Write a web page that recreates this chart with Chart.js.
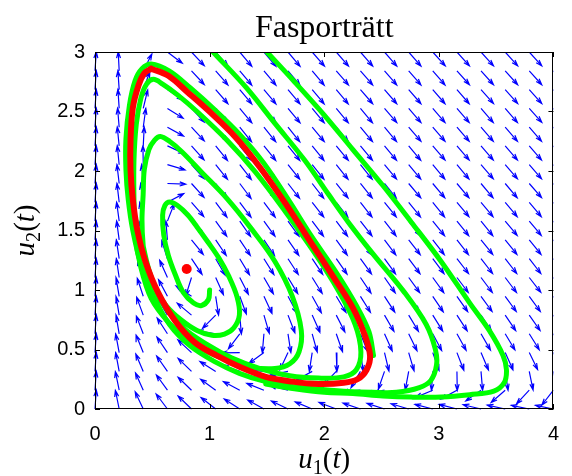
<!DOCTYPE html>
<html><head><meta charset="utf-8">
<script src="https://cdn.jsdelivr.net/npm/chart.js@4/dist/chart.umd.min.js"></script>
<style>html,body{margin:0;padding:0;background:#fff}#wrap{width:572px;height:476px}</style>
</head><body><div id="wrap"><canvas id="c" width="572" height="476"></canvas></div>
<script>
// ---- data ----
const xTicks = [0, 1, 2, 3, 4];
const yTicks = [0, 0.5, 1, 1.5, 2, 2.5, 3];
const titleText = 'Fasporträtt';

// quiver grid (20 x 20)
const gridX = [0,0.211,0.421,0.632,0.842,1.053,1.263,1.474,1.684,1.895,2.105,2.316,2.526,2.737,2.947,3.158,3.368,3.579,3.789,4];
const gridY = [0,0.158,0.316,0.474,0.632,0.789,0.947,1.105,1.263,1.421,1.579,1.737,1.895,2.053,2.211,2.368,2.526,2.684,2.842,3];
// arrow direction in degrees, one row per gridY value (bottom to top), one entry per gridX value
const arrowAngles = [
 [86,102,116,128,137,143,148,152,155,158,160,162,163,164,166,166,167,168,169,169],
 [86,102,115,127,137,145,153,159,166,172,178,-176,-170,-164,-158,-152,-146,-140,-134,-129],
 [86,101,114,126,137,149,161,175,-169,-152,-135,-121,-110,-101,-94,-89,-85,-81,-78,-76],
 [86,101,113,125,138,155,-179,-145,-116,-99,-88,-81,-76,-73,-70,-68,-66,-65,-63,-62],
 [86,100,112,124,139,171,-128,-95,-81,-74,-70,-67,-65,-63,-61,-60,-59,-58,-57,-57],
 [86,100,111,122,141,-136,-85,-73,-68,-65,-62,-61,-59,-58,-57,-56,-56,-55,-54,-54],
 [86,100,109,119,147,-81,-69,-64,-61,-60,-58,-57,-56,-55,-55,-54,-53,-53,-53,-52],
 [86,99,108,115,-108,-65,-62,-59,-58,-57,-56,-55,-54,-53,-53,-52,-52,-52,-51,-51],
 [86,99,106,108,-55,-59,-58,-57,-56,-55,-54,-53,-53,-52,-52,-51,-51,-51,-51,-50],
 [86,98,103,95,-50,-55,-55,-55,-54,-53,-53,-52,-52,-51,-51,-51,-50,-50,-50,-50],
 [86,98,101,68,-48,-53,-54,-53,-53,-52,-52,-51,-51,-50,-50,-50,-50,-49,-49,-49],
 [86,97,98,27,-48,-52,-52,-52,-52,-51,-51,-51,-50,-50,-50,-49,-49,-49,-49,-49],
 [86,97,95,-2,-47,-51,-52,-51,-51,-51,-50,-50,-50,-49,-49,-49,-49,-49,-48,-48],
 [86,96,91,-16,-47,-50,-51,-51,-50,-50,-50,-50,-49,-49,-49,-49,-48,-48,-48,-48],
 [86,96,87,-24,-47,-50,-50,-50,-50,-50,-49,-49,-49,-49,-48,-48,-48,-48,-48,-48],
 [86,95,82,-28,-46,-49,-50,-50,-50,-49,-49,-49,-49,-48,-48,-48,-48,-48,-48,-48],
 [86,94,76,-31,-46,-49,-49,-49,-49,-49,-49,-49,-48,-48,-48,-48,-48,-48,-47,-47],
 [86,94,69,-33,-46,-48,-49,-49,-49,-49,-49,-48,-48,-48,-48,-48,-47,-47,-47,-47],
 [86,93,62,-35,-46,-48,-49,-49,-49,-49,-48,-48,-48,-48,-48,-47,-47,-47,-47,-47],
 [86,93,54,-36,-46,-48,-49,-49,-49,-48,-48,-48,-48,-48,-47,-47,-47,-47,-47,-47]
];
const arrowLength = 0.16;

// fixed point
const fixedX = [0.8];
const fixedY = [1.176];

// red limit cycle
const cycleX = [0.49,0.64,0.81,1.02,1.23,1.44,1.66,1.87,2.08,2.25,2.35,2.40,2.37,2.29,2.17,1.95,1.72,1.49,1.27,1.06,0.87,0.70,0.55,0.44,0.37,0.33,0.31,0.31,0.33,0.38,0.43,0.49];
const cycleY = [2.86,2.80,2.66,2.48,2.28,2.03,1.73,1.42,1.11,0.85,0.63,0.45,0.33,0.25,0.22,0.21,0.23,0.27,0.35,0.45,0.56,0.74,0.98,1.24,1.50,1.76,2.01,2.26,2.53,2.72,2.82,2.86];

// green trajectory from inside (starts at (1,1))
const innerX = [1.00,0.99,0.93,0.86,0.77,0.70,0.64,0.60,0.59,0.61,0.65,0.72,0.81,0.89,0.98,1.08,1.17,1.24,1.26,1.21,1.13,1.02,0.89,0.75,0.62,0.52,0.45,0.42,0.41,0.42,0.43,0.47,0.52,0.57,0.65,0.76,0.93,1.15,1.36,1.57,1.72,1.80,1.78,1.70,1.57,1.37,1.20,0.98,0.81,0.64,0.49,0.40,0.35,0.34,0.34,0.36,0.40,0.45,0.51,0.59,0.72,0.89,1.15,1.40,1.66,1.91,2.12,2.27,2.32,2.28,2.17,1.95,1.70,1.44,1.19,0.98,0.76,0.57,0.47,0.40];
const innerY = [1.00,0.92,0.87,0.89,0.98,1.13,1.29,1.46,1.63,1.71,1.74,1.71,1.63,1.53,1.41,1.27,1.11,0.94,0.79,0.68,0.63,0.62,0.66,0.75,0.87,1.02,1.19,1.38,1.59,1.80,2.01,2.18,2.26,2.29,2.25,2.16,1.99,1.77,1.52,1.24,0.95,0.66,0.48,0.38,0.34,0.35,0.40,0.48,0.58,0.73,0.93,1.19,1.46,1.76,2.09,2.39,2.61,2.73,2.77,2.73,2.64,2.50,2.26,1.99,1.66,1.32,1.00,0.71,0.48,0.33,0.27,0.26,0.28,0.34,0.43,0.54,0.69,0.92,1.17,1.46];

// green trajectory entering from the top at u1 = 1.03
const outer1X = [1.03,1.32,1.57,1.83,2.04,2.21,2.42,2.70,2.89,2.97,2.98,2.93,2.83,2.63,2.42,2.17,1.91,1.72,1.49,1.26,1.04,0.83,0.65,0.51,0.40,0.33,0.29,0.27,0.27,0.30,0.35,0.41,0.49,0.65,0.83,1.05,1.26,1.47,1.68,1.89,2.11,2.28,2.39,2.43];
const outer1Y = [3.00,2.70,2.40,2.09,1.80,1.57,1.31,0.98,0.71,0.50,0.37,0.24,0.18,0.14,0.14,0.15,0.17,0.19,0.23,0.30,0.40,0.53,0.71,0.95,1.22,1.50,1.76,2.01,2.27,2.55,2.76,2.86,2.90,2.84,2.70,2.51,2.31,2.07,1.77,1.45,1.14,0.87,0.65,0.45];

// green trajectory entering from the top at u1 = 1.5
const outer2X = [1.50,1.74,2.00,2.25,2.51,2.76,3.02,3.27,3.44,3.56,3.59,3.57,3.48,3.27,3.02,2.76,2.51,2.25,2.00,1.74,1.49];
const outer2Y = [3.00,2.75,2.47,2.18,1.88,1.57,1.24,0.89,0.66,0.45,0.33,0.22,0.15,0.12,0.10,0.10,0.11,0.13,0.14,0.17,0.21];

// ---- build library data ----
const toPts = (xs, ys) => xs.map((x, k) => ({x: x, y: ys[k]}));
const arrowPts = [];
gridY.forEach((gy, j) => {
  gridX.forEach((gx, i) => {
    const a = arrowAngles[j][i] * Math.PI / 180;
    const u = arrowLength * Math.cos(a), v = arrowLength * Math.sin(a);
    const tx = gx + u, ty = gy + v;
    arrowPts.push({x: gx, y: gy}, {x: tx, y: ty}, {x: gx, y: null});
    arrowPts.push({x: tx - 0.33 * (u + 0.33 * v), y: ty - 0.33 * (v - 0.33 * u)});
    arrowPts.push({x: tx, y: ty});
    arrowPts.push({x: tx - 0.33 * (u - 0.33 * v), y: ty - 0.33 * (v + 0.33 * u)});
    arrowPts.push({x: tx, y: null});
  });
});

const lineDs = (label, pts, color, width, order) => ({
  label, data: pts, showLine: true, borderColor: color, backgroundColor: color,
  borderWidth: width, pointRadius: 0, pointHoverRadius: 0, tension: 0.35,
  cubicInterpolationMode: 'default', spanGaps: false, order, borderCapStyle: 'round', borderJoinStyle: 'round'
});

const frameAndText = {
  id: 'frameAndText',
  afterDraw(chart) {
    const ctx = chart.ctx, a = chart.chartArea, sx = chart.scales.x, sy = chart.scales.y;
    ctx.save();
    ctx.strokeStyle = '#000'; ctx.lineWidth = 1;
    ctx.strokeRect(Math.round(a.left) + 0.5, Math.round(a.top) + 0.5, Math.round(a.right - a.left) - 1, Math.round(a.bottom - a.top) - 1);
    const tl = 5;
    ctx.beginPath();
    xTicks.forEach(v => {
      const p = Math.round(sx.getPixelForValue(v)) + 0.5;
      ctx.moveTo(p, a.bottom); ctx.lineTo(p, a.bottom - tl);
      ctx.moveTo(p, a.top); ctx.lineTo(p, a.top + tl);
    });
    yTicks.forEach(v => {
      const p = Math.round(sy.getPixelForValue(v)) + 0.5;
      ctx.moveTo(a.left, p); ctx.lineTo(a.left + tl, p);
      ctx.moveTo(a.right, p); ctx.lineTo(a.right - tl, p);
    });
    ctx.stroke();

    // title
    ctx.fillStyle = '#000';
    ctx.textAlign = 'center'; ctx.textBaseline = 'alphabetic';
    ctx.font = '32px "Liberation Serif"';
    ctx.fillText(titleText, (a.left + a.right) / 2, 37);

    // math labels
    const drawMath = (parts, cx, baseY, size) => {
      let w = 0;
      const specs = parts.map(p => {
        const f = (p.it ? 'italic ' : '') + (p.sub ? size * 0.7 : size) + 'px "Liberation Serif"';
        ctx.font = f;
        const m = ctx.measureText(p.t).width;
        w += m;
        return {f, m, p};
      });
      let x = cx - w / 2;
      ctx.textAlign = 'left';
      specs.forEach(s => {
        ctx.font = s.f;
        ctx.fillText(s.p.t, x, baseY + (s.p.sub ? size * 0.22 : 0));
        x += s.m;
      });
    };
    const lab = n => [{t: 'u', it: true}, {t: n, sub: true}, {t: '('}, {t: 't', it: true}, {t: ')'}];
    drawMath(lab('1'), (a.left + a.right) / 2, 468, 29);
    ctx.save();
    ctx.translate(34, (a.top + a.bottom) / 2);
    ctx.rotate(-Math.PI / 2);
    drawMath(lab('2'), 0, 0, 29);
    ctx.restore();
    ctx.restore();
  }
};

new Chart(document.getElementById('c'), {
  type: 'scatter',
  data: {
    datasets: [
      {label: 'fixpunkt', data: toPts(fixedX, fixedY), pointRadius: 5, pointBackgroundColor: '#ff0000', pointBorderColor: '#ff0000', borderWidth: 0, order: 0},
      lineDs('gränscykel', toPts(cycleX, cycleY), '#ff0000', 6, 1),
      lineDs('bana 1', toPts(innerX, innerY), '#00ff00', 5, 2),
      lineDs('bana 2', toPts(outer1X, outer1Y), '#00ff00', 5, 3),
      lineDs('bana 3', toPts(outer2X, outer2Y), '#00ff00', 5, 4),
      {label: 'riktningsfält', data: arrowPts, showLine: true, borderColor: '#0000ff', borderWidth: 1.2, pointRadius: 0, spanGaps: false, tension: 0, order: 10, clip: {left: 2, top: 0, right: 0, bottom: 2}}
    ]
  },
  options: {
    responsive: false, animation: false, devicePixelRatio: 1,
    layout: {padding: {top: 52, right: 6, left: 0, bottom: 0}},
    plugins: {legend: {display: false}, tooltip: {enabled: false}, title: {display: false}},
    scales: {
      x: {type: 'linear', min: 0, max: 4, grid: {display: false, drawTicks: false}, border: {display: false},
          afterBuildTicks: s => { s.ticks = xTicks.map(v => ({value: v})); },
          ticks: {color: '#000', font: {family: '"Liberation Sans", Arial', size: 20}, padding: 13, maxRotation: 0, callback: v => String(v)},
          afterFit: s => { s.height = 67; }},
      y: {type: 'linear', min: 0, max: 3, grid: {display: false, drawTicks: false}, border: {display: false},
          afterBuildTicks: s => { s.ticks = yTicks.map(v => ({value: v})); },
          ticks: {color: '#000', font: {family: '"Liberation Sans", Arial', size: 20}, padding: 10, callback: v => String(v)},
          afterFit: s => { s.width = 95; }}
    }
  },
  plugins: [frameAndText]
});
</script></body></html>
